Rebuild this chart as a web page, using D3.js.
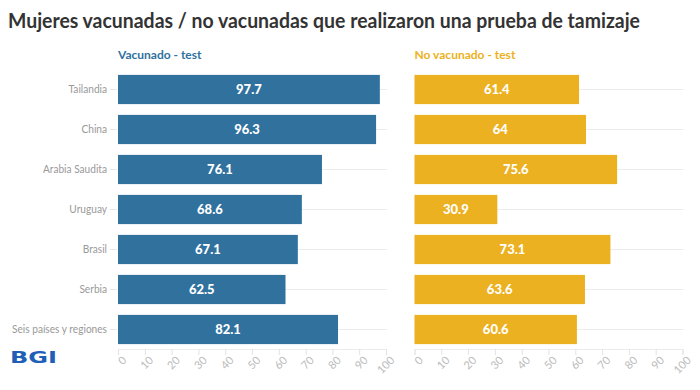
<!DOCTYPE html>
<html><head><meta charset="utf-8">
<script src="https://cdn.jsdelivr.net/npm/d3@7"></script>
<style>body{margin:0;background:#fff;} svg{display:block;font-family:Lato,"Noto Sans",sans-serif;}</style>
</head><body><svg id="c" width="700" height="390"></svg>
<script>
const title = "Mujeres vacunadas / no vacunadas que realizaron una prueba de tamizaje";
const categories = ["Tailandia","China","Arabia Saudita","Uruguay","Brasil","Serbia","Seis países y regiones"];
const seriesNames = ["Vacunado - test","No vacunado - test"];
const vacunado = [97.7,96.3,76.1,68.6,67.1,62.5,82.1];
const noVacunado = [61.4,64,75.6,30.9,73.1,63.6,60.6];
const tickValues = [0,10,20,30,40,50,60,70,80,90,100];
const colors = ["#30719e","#ecb120"];

const svg = d3.select("#c");
svg.append("text").attr("x",8).attr("y",28).text(title)
  .attr("font-size",20).attr("font-weight",700).attr("fill","#333")
  .attr("textLength",632).attr("lengthAdjust","spacingAndGlyphs");

const y = d3.scaleBand().domain(categories).range([69.5,349.5]).paddingInner(0.27).paddingOuter(0.135);
const panels = [
  {x0:118, x1:386, data:vacunado, name:seriesNames[0], color:colors[0]},
  {x0:414.5, x1:682.5, data:noVacunado, name:seriesNames[1], color:colors[1]}
];

// category axis
const yAxis = svg.append("g").attr("transform","translate(117,0)")
  .call(d3.axisLeft(y).tickSize(7).tickPadding(3));
yAxis.select(".domain").remove();
yAxis.selectAll("line").attr("stroke","#e6e6e6");
yAxis.selectAll("text").attr("fill","#999").attr("font-size",11).attr("font-family","Lato,sans-serif")
  .attr("textLength",function(){return this.getComputedTextLength()*0.92;})
  .attr("lengthAdjust","spacingAndGlyphs");

panels.forEach((p,pi)=>{
  const x = d3.scaleLinear().domain([0,100]).range([p.x0,p.x1]);
  const g = svg.append("g");
  g.selectAll(".grid").data(categories).join("line")
    .attr("x1",p.x0).attr("x2",p.x1+1)
    .attr("y1",d=>y(d)+y.bandwidth()/2).attr("y2",d=>y(d)+y.bandwidth()/2)
    .attr("stroke","#ececec");
  g.append("text").attr("x",p.x0).attr("y",59).text(p.name)
    .attr("font-size",12).attr("font-weight",700).attr("fill",p.color);
  g.selectAll("rect").data(p.data).join("rect")
    .attr("x",x(0)).attr("y",(d,i)=>y(categories[i]))
    .attr("width",d=>x(d)-x(0)).attr("height",y.bandwidth())
    .attr("fill",p.color);
  g.selectAll(".val").data(p.data).join("text")
    .attr("x",d=>(x(0)+x(d))/2).attr("y",(d,i)=>y(categories[i])+y.bandwidth()/2)
    .attr("dy","0.36em").attr("text-anchor","middle")
    .attr("font-size",13).attr("font-weight",900).attr("fill","#fff").text(d=>d);
  const ax = svg.append("g").attr("transform","translate(0,349)")
    .call(d3.axisBottom(x).tickValues(tickValues).tickSize(6).tickPadding(4));
  ax.select(".domain").attr("stroke","#ececec");
  ax.selectAll("line").attr("stroke","#e3e3e3");
  ax.selectAll("text").attr("fill","#bbb").attr("font-size",11).attr("font-family","Lato,sans-serif")
    .attr("text-anchor","end").attr("dx","-0.2em").attr("dy","0.6em")
    .attr("transform","rotate(-45)").attr("x",0).attr("y",8);
});

// logo
svg.append("text").attr("x",10).attr("y",363).text("BGI")
  .attr("font-size",15).attr("font-weight",900)
  .attr("fill","#1f5fb8").attr("font-family","'DejaVu Sans',sans-serif")
  .attr("textLength",47).attr("lengthAdjust","spacingAndGlyphs")
  .attr("transform","translate(0,0)");
</script></body></html>
